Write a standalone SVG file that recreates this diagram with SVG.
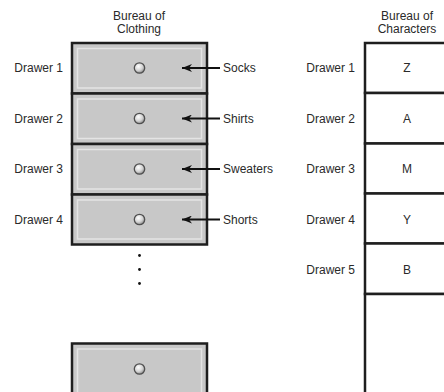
<svg xmlns="http://www.w3.org/2000/svg" width="444" height="392" viewBox="0 0 444 392">
<style>
text{font-family:"Liberation Sans",Arial,sans-serif;font-size:12px;fill:#2a2a2a}
.r{text-anchor:end}.m{text-anchor:middle}
.drawer{fill:#c8c8c8;stroke:#1e1e1e;stroke-width:2.5}
.panel{fill:none;stroke:#e4e4e4;stroke-width:1.5}
.knob{fill:url(#kg);stroke:#505050;stroke-width:1.3}
.cell{fill:#fff;stroke:#1e1e1e;stroke-width:2.5}
.conn{stroke:#111;stroke-width:2;fill:none}
</style>
<defs>
<radialGradient id="kg" cx="0.4" cy="0.35" r="0.7">
<stop offset="0" stop-color="#ffffff"/><stop offset="0.55" stop-color="#d4d4d4"/><stop offset="1" stop-color="#808080"/>
</radialGradient>
<marker id="ah" markerWidth="11" markerHeight="8" refX="10" refY="4" orient="auto" markerUnits="userSpaceOnUse">
<path d="M0,0 L10,4 L0,8 L3,4 Z" fill="#111"/>
</marker>
</defs>
<g id="title-clothing"><text class="m" x="139" y="20">Bureau of</text><text class="m" x="139" y="33">Clothing</text></g>
<g id="title-characters"><text class="m" x="407" y="20">Bureau of</text><text class="m" x="407" y="33">Characters</text></g>

<g id="drawer1"><rect class="drawer" x="72" y="43" width="135" height="50.5"/><rect class="panel" x="77.5" y="48.5" width="124" height="39.5"/><circle class="knob" cx="139.5" cy="68" r="5.2"/><text class="r" x="63" y="72.3">Drawer 1</text></g>
<g id="drawer2"><rect class="drawer" x="72" y="93.5" width="135" height="50.5"/><rect class="panel" x="77.5" y="99" width="124" height="39.5"/><circle class="knob" cx="139.5" cy="118.5" r="5.2"/><text class="r" x="63" y="122.8">Drawer 2</text></g>
<g id="drawer3"><rect class="drawer" x="72" y="144" width="135" height="50.5"/><rect class="panel" x="77.5" y="149.5" width="124" height="39.5"/><circle class="knob" cx="139.5" cy="169" r="5.2"/><text class="r" x="63" y="173.3">Drawer 3</text></g>
<g id="drawer4"><rect class="drawer" x="72" y="194.5" width="135" height="50"/><rect class="panel" x="77.5" y="200" width="124" height="39"/><circle class="knob" cx="139.5" cy="219.5" r="5.2"/><text class="r" x="63" y="223.8">Drawer 4</text></g>
<g id="ellipsis"><circle cx="139.5" cy="255.5" r="1.4" fill="#111"/><circle cx="139.5" cy="269.5" r="1.4" fill="#111"/><circle cx="139.5" cy="283.5" r="1.4" fill="#111"/></g>
<g id="drawerN"><rect class="drawer" x="72" y="343.5" width="135" height="55"/><rect class="panel" x="77.5" y="349" width="124" height="45"/><circle class="knob" cx="139.5" cy="369" r="5.2"/></g>

<g id="socks"><text x="223" y="72.3">Socks</text></g>
<g id="shirts"><text x="223" y="122.8">Shirts</text></g>
<g id="sweaters"><text x="223" y="173.3">Sweaters</text></g>
<g id="shorts"><text x="223" y="223.8">Shorts</text></g>

<g id="connectors">
<line class="conn" x1="220" y1="68" x2="182" y2="68" marker-end="url(#ah)"/>
<line class="conn" x1="220" y1="118.5" x2="182" y2="118.5" marker-end="url(#ah)"/>
<line class="conn" x1="220" y1="169" x2="182" y2="169" marker-end="url(#ah)"/>
<line class="conn" x1="220" y1="219.5" x2="182" y2="219.5" marker-end="url(#ah)"/>
</g>

<g id="cell1"><rect class="cell" x="365" y="43" width="90" height="50"/><text class="m" x="407" y="72.3">Z</text><text class="r" x="355" y="72.3">Drawer 1</text></g>
<g id="cell2"><rect class="cell" x="365" y="93" width="90" height="50.5"/><text class="m" x="407" y="122.8">A</text><text class="r" x="355" y="122.8">Drawer 2</text></g>
<g id="cell3"><rect class="cell" x="365" y="143.5" width="90" height="50"/><text class="m" x="407" y="173.3">M</text><text class="r" x="355" y="173.3">Drawer 3</text></g>
<g id="cell4"><rect class="cell" x="365" y="193.5" width="90" height="50"/><text class="m" x="407" y="223.8">Y</text><text class="r" x="355" y="223.8">Drawer 4</text></g>
<g id="cell5"><rect class="cell" x="365" y="243.5" width="90" height="50.5"/><text class="m" x="407" y="274.3">B</text><text class="r" x="355" y="274.3">Drawer 5</text></g>
<g id="cellRest"><rect class="cell" x="365" y="294" width="90" height="110"/></g>
</svg>
